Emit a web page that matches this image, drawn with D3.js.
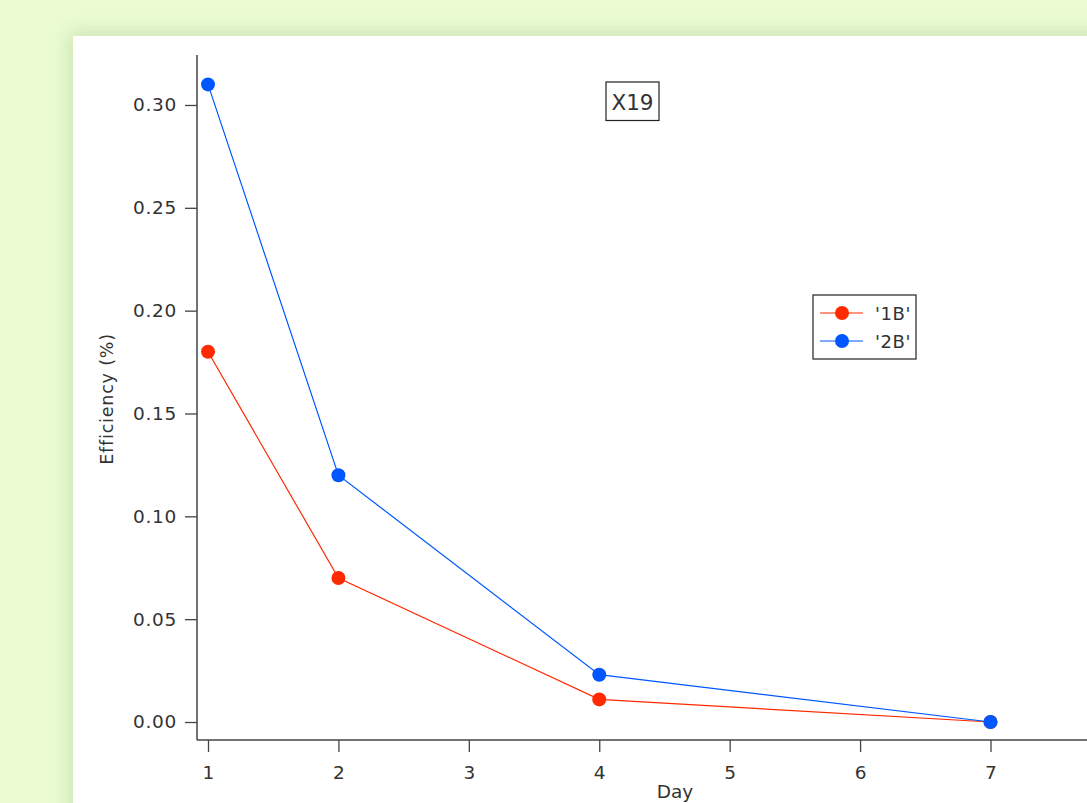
<!DOCTYPE html>
<html>
<head>
<meta charset="utf-8">
<script src="https://cdn.jsdelivr.net/npm/d3@7"></script>
<style>
  body { margin: 0; background: #ebfcd3; overflow: hidden; }
  #panel { position: absolute; left: 73px; top: 36px; width: 1100px; height: 900px;
           background: #fff; box-shadow: 0 0 18px 4px rgba(120,150,90,0.25); }
  svg { position: absolute; left: 0; top: 0; }
  text { font-family: "DejaVu Sans", sans-serif; fill: #333; }
</style>
</head>
<body>
<div id="panel"></div>
<svg id="chart" width="1087" height="803"></svg>
<script>
// data
var days = [1, 2, 4, 7];
var series1B = [0.180, 0.070, 0.011, 0.000];
var series2B = [0.310, 0.120, 0.023, 0.000];
var seriesNames = ["'1B'", "'2B'"];
var seriesColors = ["#ff2a00", "#0057ff"];
var xTicks = [1, 2, 3, 4, 5, 6, 7];
var yTicks = [0, 0.05, 0.10, 0.15, 0.20, 0.25, 0.30];

var svg = d3.select("#chart");

var x = d3.scaleLinear().domain([0.9156, 7.74]).range([197, 1087]);
var y = d3.scaleLinear().domain([-0.00875, 0.3243]).range([740, 55]);

var axisColor = "#444";
var fontStack = "'DejaVu Sans', sans-serif";

// y axis
var yAxis = svg.append("g")
  .attr("transform", "translate(197,0)")
  .call(d3.axisLeft(y).tickValues(yTicks).tickSize(12).tickPadding(8)
    .tickFormat(d3.format(".2f")));
yAxis.select(".domain").attr("stroke", axisColor).attr("stroke-width", 1.5)
  .attr("d", "M0," + y.range()[1] + "V" + y.range()[0]);
yAxis.selectAll(".tick line").attr("stroke", axisColor).attr("stroke-width", 1.3);
yAxis.selectAll(".tick text").style("font-size", "18.5px").attr("fill", "#333")
  .style("letter-spacing", "0.7px").style("font-family", fontStack);

// x axis
var xAxis = svg.append("g")
  .attr("transform", "translate(0,740)")
  .call(d3.axisBottom(x).tickValues(xTicks).tickSize(12).tickPadding(14)
    .tickFormat(d3.format("d")));
xAxis.select(".domain").attr("stroke", axisColor).attr("stroke-width", 1.5)
  .attr("d", "M197,0H1087");
xAxis.selectAll(".tick line").attr("stroke", axisColor).attr("stroke-width", 1.3);
xAxis.selectAll(".tick text").style("font-size", "18.5px").attr("fill", "#333")
  .style("font-family", fontStack);

// axis labels
svg.append("text")
  .attr("transform", "translate(113,399) rotate(-90)")
  .attr("text-anchor", "middle")
  .style("font-size", "17.5px")
  .style("letter-spacing", "0.8px")
  .text("Efficiency (%)");

svg.append("text")
  .attr("x", 675).attr("y", 797.5)
  .attr("text-anchor", "middle")
  .style("font-size", "18.5px")
  .text("Day");

// lines and markers
var line = d3.line()
  .x(function(d) { return x(d[0]); })
  .y(function(d) { return y(d[1]); });

[series1B, series2B].forEach(function(vals, i) {
  var pts = days.map(function(d, j) { return [d, vals[j]]; });
  svg.append("path")
    .datum(pts)
    .attr("d", line)
    .attr("fill", "none")
    .attr("stroke", seriesColors[i])
    .attr("stroke-width", 1.2);
  svg.selectAll(".m" + i).data(pts).enter().append("circle")
    .attr("class", "m" + i)
    .attr("cx", function(d) { return x(d[0]); })
    .attr("cy", function(d) { return y(d[1]); })
    .attr("r", 7)
    .attr("fill", seriesColors[i]);
});

// title box
svg.append("rect")
  .attr("x", 606).attr("y", 82).attr("width", 53).attr("height", 38.5)
  .attr("fill", "#fff").attr("stroke", "#222").attr("stroke-width", 1.2);
svg.append("text")
  .attr("x", 632.5).attr("y", 109.5)
  .attr("text-anchor", "middle")
  .style("font-size", "21.5px")
  .attr("fill", "#222")
  .text("X19");

// legend
var legend = svg.append("g");
legend.append("rect")
  .attr("x", 813).attr("y", 295).attr("width", 103).attr("height", 64)
  .attr("fill", "#fff").attr("stroke", "#222").attr("stroke-width", 1.2);
seriesNames.forEach(function(name, i) {
  var ly = 313 + i * 28;
  legend.append("line")
    .attr("x1", 820).attr("x2", 863).attr("y1", ly).attr("y2", ly)
    .attr("stroke", seriesColors[i]).attr("stroke-width", 1.2);
  legend.append("circle")
    .attr("cx", 842).attr("cy", ly).attr("r", 7)
    .attr("fill", seriesColors[i]);
  legend.append("text")
    .attr("x", 875).attr("y", ly + 6.5)
    .style("font-size", "18px")
    .style("letter-spacing", "0.6px")
    .attr("fill", "#222")
    .text(name);
});
</script>
</body>
</html>
